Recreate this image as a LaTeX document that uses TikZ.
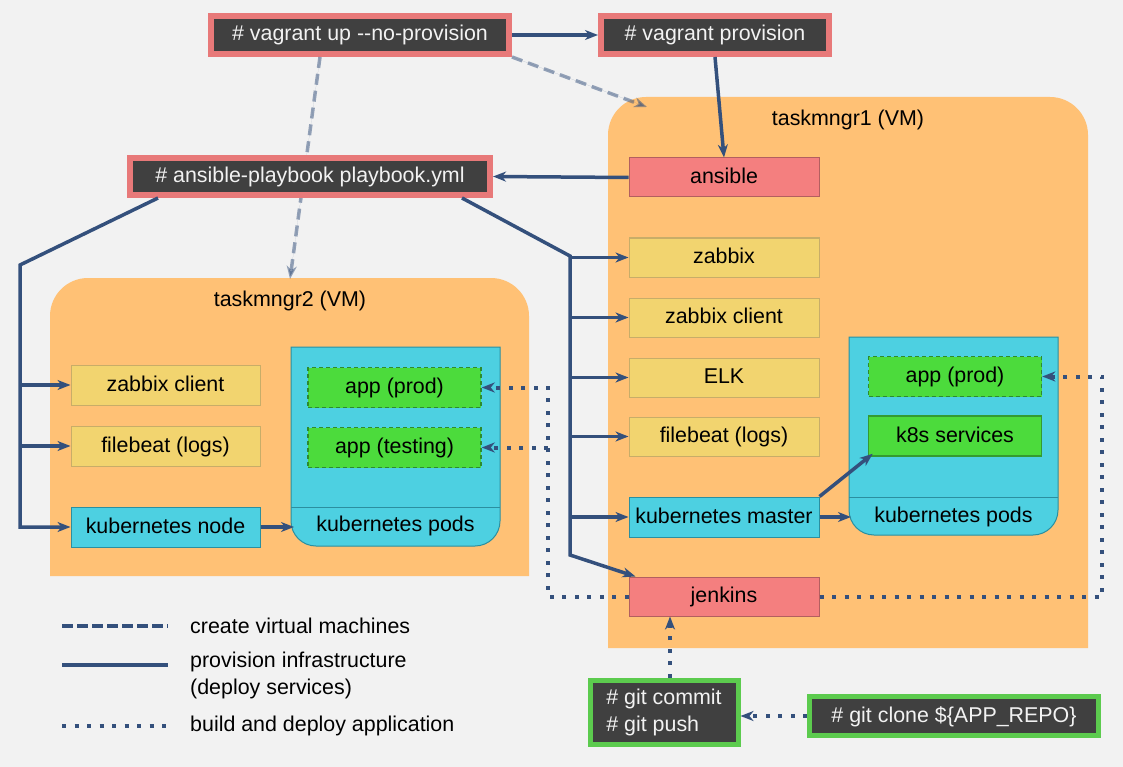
\documentclass[tikz,border=0pt]{standalone}
\usepackage{fontspec}
\setmainfont{Liberation Sans}
\usepackage{tikz}
\usetikzlibrary{arrows.meta,calc}
\definecolor{cf2f2f2}{RGB}{242,242,242}
\definecolor{cffc175}{RGB}{255,193,117}
\definecolor{c404040}{RGB}{64,64,64}
\definecolor{ce87979}{RGB}{232,121,121}
\definecolor{cf47f7f}{RGB}{244,127,127}
\definecolor{cb35f5f}{RGB}{179,95,95}
\definecolor{cf2d46f}{RGB}{242,212,111}
\definecolor{cc8ad68}{RGB}{200,173,104}
\definecolor{c4dd0e1}{RGB}{77,208,225}
\definecolor{c2b8fa0}{RGB}{43,143,160}
\definecolor{c4cdb3c}{RGB}{76,219,60}
\definecolor{c2e8b2e}{RGB}{46,139,46}
\definecolor{c5ccb4e}{RGB}{92,203,78}
\definecolor{c34507c}{RGB}{52,80,124}

\begin{document}
\begin{tikzpicture}[y=1pt,x=1pt,yscale=-1, inner sep=0pt,
  every node/.style={font=\fontsize{21.4}{27}\selectfont},
  tip/.style={-{Stealth[length=13pt,width=10pt,inset=4pt]}},
  cmdbox/.style={fill=c404040, draw=ce87979, line width=6pt, text=cf2f2f2,
    text height=16pt, text depth=4pt},
  gitbox/.style={fill=c404040, draw=c5ccb4e, line width=5pt, text=cf2f2f2},
  redbox/.style={fill=cf47f7f, draw=cb35f5f, line width=1pt, minimum width=190pt,
    minimum height=39pt, text height=16pt, text depth=4pt},
  svcbox/.style={fill=cf2d46f, draw=cc8ad68, line width=1pt, minimum width=190pt,
    minimum height=39pt, text height=16pt, text depth=4pt},
  kubebox/.style={fill=c4dd0e1, draw=c2b8fa0, line width=1pt, minimum width=190pt,
    minimum height=40pt, text height=16pt, text depth=4pt},
  appbox/.style={fill=c4cdb3c, draw=c2e8b2e, line width=1.5pt, dash pattern=on 4pt off 3pt,
    minimum width=173pt, minimum height=40pt, text height=16pt, text depth=4pt},
  vmfill/.style={fill=cffc175},
  podfill/.style={fill=c4dd0e1, draw=c2b8fa0, line width=1pt},
  createline/.style={draw=c34507c, draw opacity=0.5, fill=c34507c, fill opacity=0.5,
    line width=3.5pt, dash pattern=on 11pt off 6pt},
  provline/.style={draw=c34507c, line width=3.5pt},
  buildline/.style={draw=c34507c, line width=4pt, dash pattern=on 4pt off 8.5pt}]

  % page
  \useasboundingbox (0,0) rectangle (1123,767);
  \fill[cf2f2f2] (0,0) rectangle (1123,767);

  % virtual machines
  \path[vmfill] (608,648) -- (608,135) arc[start angle=180,end angle=270,radius=38pt]
    -- (1050,97) arc[start angle=270,end angle=360,radius=38pt] -- (1088,648) -- cycle;
  \path[vmfill] (50,576) -- (50,316) arc[start angle=180,end angle=270,radius=38pt]
    -- (491,278) arc[start angle=270,end angle=360,radius=38pt] -- (529,576) -- cycle;
  \node (vm1label) at (848,120) {taskmngr1 (VM)};
  \node (vm2label) at (290,301) {taskmngr2 (VM)};
  \coordinate (vm1tip) at (647,107);
  \coordinate (vm2tip) at (290,279);

  % kubernetes pods
  \path[podfill] (849,337) -- (1058,337) -- (1058,510) arc[start angle=0,end angle=90,radius=25pt]
    -- (874,535) arc[start angle=90,end angle=180,radius=25pt] -- cycle;
  \path[draw=c2b8fa0, line width=1pt] (849,497) -- (1058,497);
  \path[podfill] (291,347) -- (500,347) -- (500,521) arc[start angle=0,end angle=90,radius=25pt]
    -- (316,546) arc[start angle=90,end angle=180,radius=25pt] -- cycle;
  \path[draw=c2b8fa0, line width=1pt] (291,507) -- (500,507);
  \node (pods1label) at (953.5,517) {kubernetes pods};
  \node (pods2label) at (395.5,526) {kubernetes pods};
  \coordinate (pods1in) at (851,517);
  \coordinate (pods2in) at (294,527);

  % commands
  \node[cmdbox, minimum width=298pt, minimum height=38pt] (vagrantup) at (360,35)
    {\# vagrant up -{}-no-provision};
  \node[cmdbox, minimum width=228pt, minimum height=38pt] (vagrantprov) at (715,35)
    {\# vagrant provision};
  \path[createline, tip] ([xshift=152pt]vagrantup.south) -- (vm1tip);
  \path[createline, tip] ([xshift=-40pt]vagrantup.south) -- (vm2tip);
  \node[cmdbox, minimum width=360pt, minimum height=37pt] (playbook) at (310,176.5)
    {\# ansible-playbook playbook.yml};

  % taskmngr1
  \node[redbox] (ansible) at (724,177.5) {ansible};
  \node[svcbox] (zabbix1) at (724,257.5) {zabbix};
  \node[svcbox] (zabbixcl1) at (724,317.5) {zabbix client};
  \node[svcbox] (elk1) at (724,377.5) {ELK};
  \node[svcbox] (filebeat1) at (724,436.5) {filebeat (logs)};
  \node[kubebox] (kmaster) at (724,517) {kubernetes master};
  \node[redbox] (jenkins) at (724,596.5) {jenkins};
  \node[appbox] (appprod1) at (955,376.5) {app (prod)};
  \node[appbox, dash pattern=, draw=c2e8b2e!80!c4cdb3c] (k8ssvc) at (955,436) {k8s services};

  % taskmngr2
  \node[svcbox, minimum width=189pt, minimum height=40pt] (zabbixcl2) at (165.5,385) {zabbix client};
  \node[svcbox, minimum width=189pt, minimum height=40pt] (filebeat2) at (165.5,446) {filebeat (logs)};
  \node[kubebox, minimum width=189pt] (knode) at (165.5,527) {kubernetes node};
  \node[appbox] (appprod2) at (394.5,387.5) {app (prod)};
  \node[appbox] (apptest2) at (394.5,447.5) {app (testing)};

  % git
  \node[gitbox, align=left, minimum width=148pt, minimum height=64pt] (gitcommit) at (664,712)
    {\# git commit\\\# git push};
  \node[gitbox, minimum width=289pt, minimum height=39pt, text height=16pt, text depth=4pt]
    (gitclone) at (954,716) {\# git clone \$\{APP\_REPO\}};

  % provisioning
  \path[provline, tip] (vagrantup.east) -- (vagrantprov.west);
  \path[provline, tip] (vagrantprov.south) -- (ansible.north);
  \path[provline, tip] (ansible.west) -- (playbook.east);
  \coordinate (leftbus) at (20,265);
  \coordinate (rightbus) at (570,256);
  \path[provline, tip] ([xshift=-152pt]playbook.south) -- (leftbus) -- (leftbus |- knode.west) -- (knode.west);
  \path[provline, tip] (leftbus |- zabbixcl2.west) -- (zabbixcl2.west);
  \path[provline, tip] (leftbus |- filebeat2.west) -- (filebeat2.west);
  \path[provline, tip] ([xshift=152pt]playbook.south) -- (rightbus) -- (570,555) -- ($(jenkins.north west)+(7,0)$);
  \path[provline, tip] (rightbus |- zabbix1.west) -- (zabbix1.west);
  \path[provline, tip] (rightbus |- zabbixcl1.west) -- (zabbixcl1.west);
  \path[provline, tip] (rightbus |- elk1.west) -- (elk1.west);
  \path[provline, tip] (rightbus |- filebeat1.west) -- (filebeat1.west);
  \path[provline, tip] (rightbus |- kmaster.west) -- (kmaster.west);
  \path[provline, tip] (kmaster.east) -- (pods1in);
  \path[provline, tip] (kmaster.north east) -- ($(k8ssvc.south west)+(5,-3)$);
  \path[provline, tip] (knode.east) -- (pods2in);

  % build and deploy
  \coordinate (dotleft) at (548,0);
  \coordinate (dotright) at (1102,0);
  \path[buildline, tip] (jenkins.west) -| (dotleft |- appprod2.east) -- (appprod2.east);
  \path[buildline, tip] (dotleft |- apptest2.east) -- (apptest2.east);
  \path[buildline, tip] (jenkins.east) -| (dotright |- appprod1.east) -- (appprod1.east);
  \path[buildline, tip] ([xshift=6pt]gitcommit.north) -- ([xshift=6pt]gitcommit.north |- jenkins.south);
  \path[buildline, tip] (gitclone.west) -- (gitclone.west -| gitcommit.east);

  % legend
  \path[draw=c34507c, line width=4pt, dash pattern=on 11pt off 4pt] (62,626) -- (168,626);
  \path[provline, line width=4pt] (62,665) -- (168,665);
  \path[buildline] (62,726) -- (168,726);
  \node[anchor=west] (legcreate) at (190,626) {create virtual machines};
  \node[anchor=west, align=left] (legprov) at (190,675.5) {provision infrastructure\\(deploy services)};
  \node[anchor=west] (legbuild) at (190,726) {build and deploy application};

\end{tikzpicture}
\end{document}
